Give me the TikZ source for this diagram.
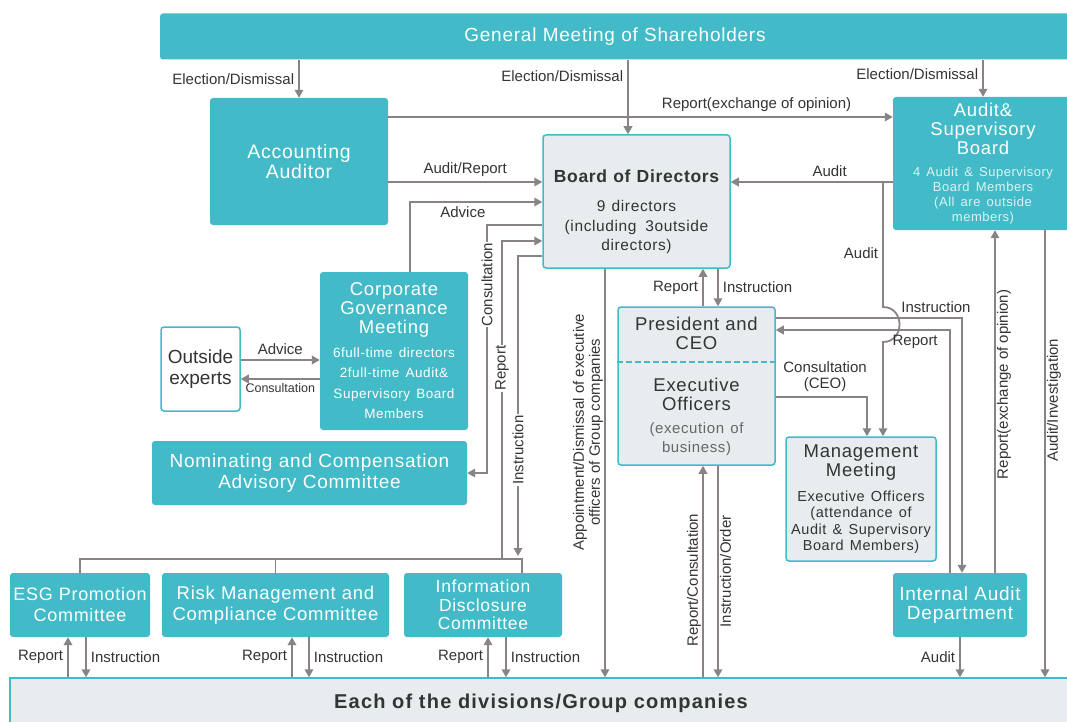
\documentclass[tikz,border=0pt]{standalone}
\usepackage{fontspec}
\setmainfont{Liberation Sans}
\newfontfamily\spaced{Liberation Sans}[LetterSpace=4]
\usetikzlibrary{positioning,arrows.meta}
\definecolor{tealbar}{RGB}{66,186,199}
\definecolor{palebox}{RGB}{231,236,238}
\definecolor{linegray}{RGB}{138,131,131}
\definecolor{ink}{RGB}{52,52,52}
\newcommand\fs[2]{\fontsize{#1}{#2}\selectfont}

\begin{document}
\begin{tikzpicture}[x=1pt,y=-1pt,
  tealbox/.style={fill=tealbar,rounded corners=3pt,text=white,align=center,inner sep=3pt,font=\spaced\fs{18.5}{19}},
  greybox/.style={fill=palebox,draw=tealbar,line width=1.5pt,rounded corners=3pt,text=ink,align=center,inner sep=3pt,font=\spaced\fs{18.5}{19}},
  sized/.style n args={3}{minimum width=#1,minimum height=#2,text width=#3},
  wire/.style={draw=linegray,line width=1.8pt,-{Triangle[width=8.5pt,length=8pt]}},
  bus/.style={draw=linegray,line width=1.8pt},
  lbl/.style={text=ink,font=\fs{15}{16},inner sep=1pt}
]
\useasboundingbox (0,0) rectangle (1067,722);
\clip (0,0) rectangle (1067,722);

\coordinate (vElect) at (628,0);
\coordinate (vUp) at (703,0);
\coordinate (vDown) at (718,0);
\coordinate (vAppt) at (605,0);
\coordinate (vAudit) at (883,0);
\coordinate (vCons) at (867,0);
\coordinate (vRep) at (950,0);
\coordinate (vIns) at (962,0);
\coordinate (vOpin) at (995,0);
\coordinate (vInv) at (1045,0);
\coordinate (vAdv) at (410,0);
\coordinate (vCon2) at (487,0);
\coordinate (vRep2) at (502,0);
\coordinate (vIns2) at (518,0);
\coordinate (vBus) at (522,0);
\coordinate (hOpin) at (0,117);
\coordinate (hAud) at (0,182);
\coordinate (hAdv) at (0,202);
\coordinate (hCon2) at (0,225);
\coordinate (hRep2) at (0,241);
\coordinate (hIns2) at (0,256);
\coordinate (hHopA) at (0,307);
\coordinate (hHopB) at (0,342);
\coordinate (hIns) at (0,318);
\coordinate (hRep) at (0,330);
\coordinate (hCons) at (0,397);
\coordinate (hOA) at (0,360);
\coordinate (hOC) at (0,379);
\coordinate (hBus) at (0,559);

\node[tealbox,sized={910pt}{46pt}{900pt},font=\spaced\fs{19}{20}] (gm) at (615,36.5) {General Meeting of Shareholders};
\node[tealbox,sized={178pt}{127pt}{170pt},font=\spaced\fs{19.5}{18}] (aa) at (299,161.5) {Accounting\\Auditor};
\node[tealbox,sized={180pt}{133pt}{172pt}] (asb) at (983,163.5) {Audit\&\\Supervisory\\Board\par\vspace{7pt}{\fs{13}{15}\color{white!82!tealbar}4 Audit \& Supervisory\\Board Members\\(All are outside\\members)\par}};
\node[greybox,sized={187pt}{133pt}{179pt}] (bod) at (636.5,201.5) {{\bfseries\fs{17.5}{19}\rule{0pt}{33pt}Board of Directors\par}\vspace{10pt}{\fs{15.5}{19.5}9 directors\\(including \,3outside\\directors)\par}};
\node[tealbox,sized={146pt}{158pt}{142pt}] (cgm) at (394,351) {Corporate\\Governance\\Meeting\par\vspace{3pt}{\fs{13.5}{20.5}6full-time directors\\2full-time Audit\&\\Supervisory Board\\Members\par}};
\node[draw=tealbar,line width=1.5pt,fill=white,rounded corners=3pt,text=ink,align=center,inner sep=1pt,sized={79pt}{84pt}{77pt},font=\fs{19}{21}] (oe) at (200.5,369) {Outside\\experts};
\node[tealbox,sized={315pt}{64pt}{305pt},font=\spaced\fs{19}{21}] (nca) at (309.5,473) {Nominating and Compensation\\Advisory Committee};
\node[greybox,sized={157pt}{158pt}{151pt}] (pce) at (696.5,386) {President and\\CEO\par\vspace{23pt}Executive\\Officers\par\vspace{4pt}{\color{ink!75}\fs{15}{19}(execution of\\business)\par}};
\node[greybox,sized={148pt}{124pt}{144pt}] (mm) at (861,499) {Management\\Meeting\par\vspace{9pt}{\fs{14.5}{16.3}Executive Officers\\(attendance of\\Audit \& Supervisory\\Board Members)\par}};
\node[tealbox,inner xsep=2pt,sized={140pt}{64pt}{136pt},font=\spaced\fs{18}{21}] (esg) at (80,605) {ESG Promotion\\Committee};
\node[tealbox,sized={227pt}{64pt}{221pt},font=\spaced\fs{18.5}{21}] (rmc) at (275.5,605) {Risk Management and\\Compliance Committee};
\node[tealbox,sized={158pt}{64pt}{152pt},font=\spaced\fs{17.5}{18.5}] (idc) at (483,605) {Information\\Disclosure\\Committee};
\node[tealbox,sized={134pt}{64pt}{128pt},font=\spaced\fs{19}{18.5}] (iad) at (960,605) {Internal Audit\\Department};
\node[fill=palebox,draw=tealbar,line width=1.5pt,align=center,text=ink,sized={1062pt}{50pt}{1000pt},font=\spaced\bfseries\fs{20}{22}\addfontfeature{LetterSpace=6}] (div) at (541,703) {Each of the divisions/Group companies};
\draw[tealbar,line width=1.5pt,dash pattern=on 6pt off 3pt] ([yshift=24pt]pce.west) -- ([yshift=24pt]pce.east);

\draw[wire] (aa.north |- gm.south) -- node[lbl,left=3pt]{Election/Dismissal} (aa.north);
\draw[wire] (gm.south -| vElect) -- node[lbl,left=3pt,pos=.22]{Election/Dismissal} (bod.north -| vElect);
\draw[wire] (asb.north |- gm.south) -- node[lbl,left=3pt,pos=.38]{Election/Dismissal} (asb.north);
\draw[wire] (aa.east |- hOpin) -- node[lbl,above=3pt,pos=.73]{Report(exchange of opinion)} (asb.west |- hOpin);
\draw[wire] (aa.east |- hAud) -- node[lbl,above=3pt]{Audit/Report} (bod.west |- hAud);
\draw[wire] (asb.west |- hAud) -- node[lbl,above=3pt,pos=.39]{Audit} (bod.east |- hAud);
\draw[wire] (vAudit |- hAud) -- node[lbl,left=3pt,pos=.57]{Audit} (vAudit |- hHopA) .. controls +(22,0) and +(22,0) .. (vAudit |- hHopB) -- (mm.north -| vAudit);
\draw[wire] (bod.south -| vDown) -- node[lbl,right=3pt]{Instruction} (pce.north -| vDown);
\draw[wire] (pce.north -| vUp) -- node[lbl,left=3pt]{Report} (bod.south -| vUp);
\draw[wire] (pce.east |- hIns) -| node[lbl,above=3pt,pos=.43]{Instruction} (iad.north -| vIns);
\draw[wire] (iad.north -| vRep) |- node[lbl,below=3pt,pos=.6]{Report} (pce.east |- hRep);
\draw[wire] (pce.east |- hCons) -| node[lbl,above=3pt,pos=.27,align=center]{Consultation\\(CEO)} (mm.north -| vCons);
\draw[wire] (iad.north -| vOpin) -- node[lbl,rotate=90,anchor=north,pos=.55]{Report(exchange of opinion)} (asb.south -| vOpin);
\draw[wire] (asb.south -| vInv) -- node[lbl,rotate=90,anchor=north,pos=.38]{Audit/Investigation} (div.north -| vInv);
\draw[wire] (iad.south) -- node[lbl,left=3pt]{Audit} (div.north -| iad.south);
\draw[wire] (div.north -| vUp) -- node[lbl,rotate=90,anchor=south,pos=.46]{Report/Consultation} (pce.south -| vUp);
\draw[wire] (pce.south -| vDown) -- node[lbl,rotate=90,anchor=north,pos=.5]{Instruction/Order} (div.north -| vDown);
\draw[wire] (bod.south -| vAppt) -- node[lbl,rotate=90,anchor=south,pos=.4,align=center]{Appointment/Dismissal of executive\\officers of Group companies} (div.north -| vAppt);
\draw[wire] (cgm.north -| vAdv) |- node[lbl,below=3pt,pos=.7]{Advice} (bod.west |- hAdv);
\draw[wire] (bod.west |- hCon2) -| node[lbl,rotate=90,fill=white,pos=.62]{Consultation} (vCon2 |- nca.east) -- (nca.east);
\draw[wire] (vRep2 |- hBus) |- node[lbl,rotate=90,fill=white,pos=.3]{Report} (bod.west |- hRep2);
\draw[wire,shorten >=3pt] (bod.west |- hIns2) -| node[lbl,rotate=90,fill=white,pos=.82]{Instruction} (vIns2 |- hBus);
\draw[bus] (esg.north) |- (vBus |- hBus) -- (idc.north -| vBus);
\draw[bus] (rmc.north) -- (rmc.north |- hBus);
\draw[wire] (oe.east |- hOA) -- node[lbl,above=3pt]{Advice} (cgm.west |- hOA);
\draw[wire] (cgm.west |- hOC) -- node[lbl,below=3pt,font=\fs{12.5}{14}]{Consultation} (oe.east |- hOC);
\foreach \n/\u/\d in {esg/68/86,rmc/292/309,idc/488/506}{
  \coordinate (up) at (\u,0);
  \coordinate (dn) at (\d,0);
  \draw[wire] (div.north -| up) -- node[lbl,left=3pt]{Report} (\n.south -| up);
  \draw[wire] (\n.south -| dn) -- node[lbl,right=3pt]{Instruction} (div.north -| dn);
}
\end{tikzpicture}
\end{document}
